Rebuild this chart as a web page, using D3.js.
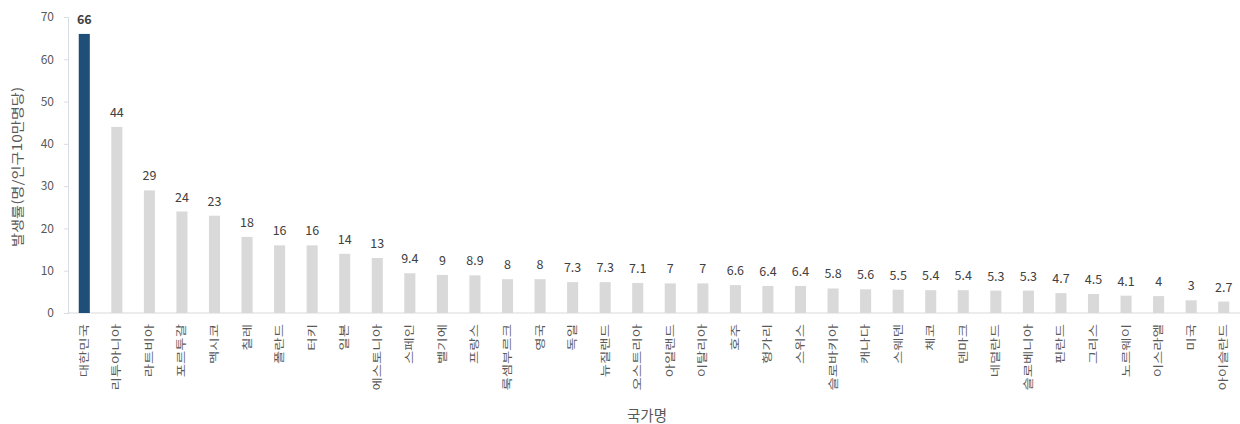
<!DOCTYPE html>
<html>
<head>
<meta charset="utf-8">
<script src="https://cdn.jsdelivr.net/npm/d3@7"></script>
<style>
  body { margin: 0; background: #fff; }
  svg text { font-family: "Noto Sans CJK KR", "Noto Sans", sans-serif; }
</style>
</head>
<body>
<div id="chart"></div>
<script>
// ---------------------------------------------------------------
// data
// ---------------------------------------------------------------
var countries = ["대한민국", "리투아니아", "라트비아", "포르투갈", "멕시코", "칠레", "폴란드", "터키", "일본",
  "에스토니아", "스페인", "벨기에", "프랑스", "룩셈부르크", "영국", "독일", "뉴질랜드", "오스트리아",
  "아일랜드", "이탈리아", "호주", "헝가리", "스위스", "슬로바키아", "캐나다", "스웨덴", "체코", "덴마크",
  "네덜란드", "슬로베니아", "핀란드", "그리스", "노르웨이", "이스라엘", "미국", "아이슬란드"];
var values = [66, 44, 29, 24, 23, 18, 16, 16, 14, 13, 9.4, 9, 8.9, 8, 8, 7.3, 7.3, 7.1,
  7, 7, 6.6, 6.4, 6.4, 5.8, 5.6, 5.5, 5.4, 5.4, 5.3, 5.3, 4.7, 4.5, 4.1, 4, 3, 2.7];
var yTicks = [0, 10, 20, 30, 40, 50, 60, 70];
var highlight = "대한민국";

var yTitle = "발생률(명/인구10만명당)";
var xTitle = "국가명";

// ---------------------------------------------------------------
// layout
// ---------------------------------------------------------------
var W = 1240, H = 424;
var margin = {top: 17, right: 0, bottom: 111, left: 68};

var data = countries.map(function(c, i) { return {name: c, value: values[i]}; });

var svg = d3.select("#chart").append("svg")
  .attr("width", W)
  .attr("height", H);

var x = d3.scaleBand()
  .domain(countries)
  .range([margin.left, W - margin.right])
  .paddingInner(0.66)
  .paddingOuter(0.33);

var y = d3.scaleLinear()
  .domain([0, 70])
  .range([H - margin.bottom, margin.top]);

// y axis
var yAxis = svg.append("g")
  .attr("transform", "translate(" + margin.left + ",0)")
  .call(d3.axisLeft(y).tickValues(yTicks).tickSize(4).tickPadding(10));
yAxis.select(".domain").attr("stroke", "#d6dee4");
yAxis.selectAll(".tick line").attr("stroke", "#d6dee4");
yAxis.selectAll(".tick text")
  .attr("fill", "#595959")
  .style("font-size", "12px");

// baseline
svg.append("line")
  .attr("x1", margin.left).attr("x2", W)
  .attr("y1", y(0)).attr("y2", y(0))
  .attr("stroke", "#d9d9d9");

// bars
svg.selectAll(".bar")
  .data(data)
  .enter().append("rect")
  .attr("class", "bar")
  .attr("x", function(d) { return x(d.name); })
  .attr("width", x.bandwidth())
  .attr("y", function(d) { return y(d.value); })
  .attr("height", function(d) { return y(0) - y(d.value); })
  .attr("fill", function(d) { return d.name == highlight ? "#1f4e79" : "#d9d9d9"; });

// value labels
svg.selectAll(".val")
  .data(data)
  .enter().append("text")
  .attr("class", "val")
  .attr("x", function(d) { return x(d.name) + x.bandwidth() / 2; })
  .attr("y", function(d) { return y(d.value) - 10; })
  .attr("text-anchor", "middle")
  .attr("fill", "#404040")
  .style("font-size", "12.5px")
  .style("font-weight", function(d) { return d.name == highlight ? "bold" : "normal"; })
  .text(function(d) { return d.value; });

// category labels (rotated, stretched along reading direction)
svg.selectAll(".cat")
  .data(data)
  .enter().append("text")
  .attr("class", "cat")
  .attr("transform", function(d) {
    return "translate(" + (x(d.name) + x.bandwidth() / 2 + 3.5) + "," + (y(0) + 11) + ") rotate(-90) scale(1.38,1)";
  })
  .attr("text-anchor", "end")
  .attr("fill", "#595959")
  .style("font-size", "10.5px")
  .text(function(d) { return d.name; });

// axis titles
svg.append("text")
  .attr("transform", "translate(22,167) rotate(-90) scale(1.18,1)")
  .attr("text-anchor", "middle")
  .attr("fill", "#595959")
  .style("font-size", "13px")
  .text(yTitle);

svg.append("text")
  .attr("x", 647)
  .attr("y", 421)
  .attr("text-anchor", "middle")
  .attr("fill", "#595959")
  .style("font-size", "14.5px")
  .text(xTitle);
</script>
</body>
</html>
